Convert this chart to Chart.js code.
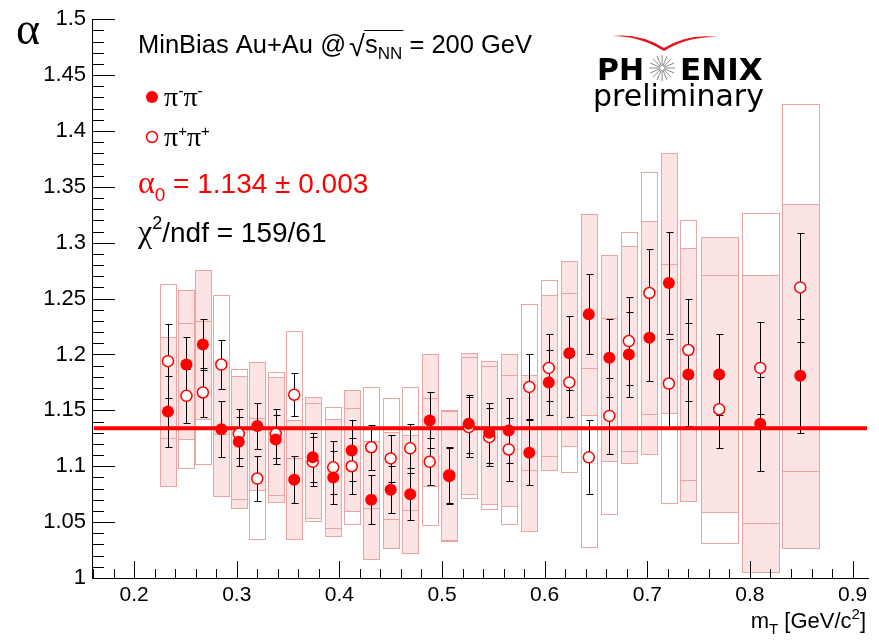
<!DOCTYPE html>
<html>
<head>
<meta charset="utf-8">
<script src="https://cdn.jsdelivr.net/npm/chart.js@4.4.1/dist/chart.umd.min.js"></script>
<style>
  html, body { margin: 0; padding: 0; background: #fff; }
</style>
</head>
<body>
<canvas id="chart" width="879" height="642"></canvas>
<script>
// m_T bin centres (GeV/c^2)
const mT = [0.233, 0.251, 0.267, 0.285, 0.302, 0.320, 0.338, 0.356, 0.374, 0.394,
            0.412, 0.431, 0.450, 0.469, 0.488, 0.507, 0.526, 0.546, 0.565, 0.585,
            0.604, 0.624, 0.643, 0.663, 0.682, 0.702, 0.721, 0.740, 0.770, 0.810, 0.849];
// half width of the systematic boxes (GeV/c^2)
const boxHalfWidth = [0.0078, 0.0078, 0.0078, 0.0078, 0.0078, 0.0078, 0.0078, 0.0078, 0.0078, 0.0078,
                      0.0078, 0.0078, 0.0078, 0.0078, 0.0078, 0.0078, 0.0078, 0.0078, 0.0078, 0.0078,
                      0.0078, 0.0078, 0.0078, 0.0078, 0.0078, 0.0078, 0.0078, 0.0078, 0.018, 0.018, 0.018];

// pi- pi- (filled)
const alphaMinus = [1.149, 1.191, 1.209, 1.133, 1.122, 1.136, 1.124, 1.088, 1.108, 1.090,
                    1.114, 1.070, 1.079, 1.075, 1.141, 1.091, 1.138, 1.130, 1.132, 1.112,
                    1.175, 1.201, 1.236, 1.197, 1.200, 1.215, 1.264, 1.182, 1.182, 1.138, 1.181];
const statMinus = [0.032, 0.025, 0.023, 0.025, 0.022, 0.021, 0.022, 0.021, 0.022, 0.024,
                   0.027, 0.022, 0.021, 0.023, 0.025, 0.025, 0.026, 0.027, 0.029, 0.029,
                   0.029, 0.033, 0.036, 0.035, 0.038, 0.039, 0.046, 0.046, 0.036, 0.042, 0.051];
const sysMinus = [0.067, 0.067, 0.067, 0.060, 0.059, 0.057, 0.056, 0.053, 0.054, 0.052,
                  0.054, 0.053, 0.052, 0.053, 0.059, 0.058, 0.063, 0.064, 0.068, 0.070,
                  0.078, 0.083, 0.090, 0.092, 0.097, 0.104, 0.116, 0.113, 0.123, 0.133, 0.154];

// pi+ pi+ (open)
const alphaPlus = [1.194, 1.163, 1.166, 1.191, 1.129, 1.089, 1.129, 1.164, 1.104, 1.099,
                   1.100, 1.117, 1.107, 1.116, 1.104, 1.092, 1.135, 1.126, 1.115, 1.171,
                   1.188, 1.175, 1.108, 1.145, 1.212, 1.255, 1.174, 1.204, 1.151, 1.188, 1.260];
const statPlus = [0.033, 0.024, 0.022, 0.022, 0.022, 0.020, 0.022, 0.019, 0.022, 0.024,
                  0.025, 0.020, 0.021, 0.022, 0.021, 0.025, 0.027, 0.026, 0.028, 0.029,
                  0.030, 0.031, 0.033, 0.034, 0.039, 0.039, 0.040, 0.046, 0.035, 0.041, 0.049];
const sysPlus = [0.069, 0.065, 0.064, 0.062, 0.058, 0.054, 0.055, 0.057, 0.053, 0.054,
                 0.052, 0.054, 0.054, 0.055, 0.057, 0.058, 0.063, 0.064, 0.067, 0.074,
                 0.079, 0.080, 0.080, 0.088, 0.098, 0.108, 0.107, 0.116, 0.120, 0.139, 0.164];

// constant fit
const alpha0 = 1.134;
const fitRange = [0.161, 0.914];

// axes
const xRange = [0.159, 0.915];
const yRange = [1.0, 1.5];

const RED = '#ff0000';
const BOX_FILL = '#fde4e4';
const BOX_LINE = '#eea3a3';

function fmt(v) {
    return String(Number(v.toFixed(2)));
}

function drawRuns(ctx, x, y, runs) {
    runs.forEach(r => {
        ctx.font = (r.bold ? 'bold ' : '') + r.size + 'px ' + (r.family || '"Liberation Sans"');
        ctx.fillStyle = r.color || '#000';
        ctx.fillText(r.text, x, y + (r.dy || 0));
        x += ctx.measureText(r.text).width;
    });
    return x;
}

// boxes + stat error bars, drawn under the markers
const errorPlugin = {
    id: 'errors',
    beforeDatasetsDraw(chart) {
        const ctx = chart.ctx;
        const xs = chart.scales.x, ys = chart.scales.y;
        ctx.save();
        ctx.lineWidth = 1;
        ctx.strokeStyle = BOX_LINE;
        // filled-series boxes (pink)
        mT.forEach((x, i) => {
            const l = Math.round(xs.getPixelForValue(x - boxHalfWidth[i])) + 0.5;
            const r = Math.round(xs.getPixelForValue(x + boxHalfWidth[i])) + 0.5;
            const t = Math.round(ys.getPixelForValue(alphaMinus[i] + sysMinus[i])) + 0.5;
            const b = Math.round(ys.getPixelForValue(alphaMinus[i] - sysMinus[i])) + 0.5;
            ctx.fillStyle = BOX_FILL;
            ctx.fillRect(l, t, r - l, b - t);
            ctx.strokeRect(l, t, r - l, b - t);
        });
        // open-series boxes (outline only)
        mT.forEach((x, i) => {
            const l = Math.round(xs.getPixelForValue(x - boxHalfWidth[i])) + 0.5;
            const r = Math.round(xs.getPixelForValue(x + boxHalfWidth[i])) + 0.5;
            const t = Math.round(ys.getPixelForValue(alphaPlus[i] + sysPlus[i])) + 0.5;
            const b = Math.round(ys.getPixelForValue(alphaPlus[i] - sysPlus[i])) + 0.5;
            ctx.strokeRect(l, t, r - l, b - t);
        });
        // statistical error bars
        ctx.strokeStyle = '#000';
        const bars = (vals, errs) => {
            mT.forEach((x, i) => {
                const px = Math.round(xs.getPixelForValue(x)) + 0.5;
                const t = Math.round(ys.getPixelForValue(vals[i] + errs[i])) + 0.5;
                const b = Math.round(ys.getPixelForValue(vals[i] - errs[i])) + 0.5;
                ctx.beginPath();
                ctx.moveTo(px, t); ctx.lineTo(px, b);
                ctx.moveTo(px - 3, t); ctx.lineTo(px + 4, t);
                ctx.moveTo(px - 3, b); ctx.lineTo(px + 4, b);
                ctx.stroke();
            });
        };
        bars(alphaMinus, statMinus);
        bars(alphaPlus, statPlus);
        ctx.restore();
    },
    afterDraw(chart) {
        const ctx = chart.ctx;
        const xs = chart.scales.x, ys = chart.scales.y;
        const area = chart.chartArea;
        ctx.save();
        // inward ticks
        ctx.strokeStyle = '#000';
        ctx.lineWidth = 1;
        ctx.beginPath();
        for (let i = 0; i <= 50; i++) {
            const py = Math.round(ys.getPixelForValue(1 + i * 0.01)) + 0.5;
            const len = i % 5 === 0 ? 23 : 12;
            ctx.moveTo(area.left, py); ctx.lineTo(area.left + len, py);
        }
        for (let i = 8; i <= 45; i++) {
            const px = Math.round(xs.getPixelForValue(i * 0.02)) + 0.5;
            const len = i % 5 === 0 ? 17 : 9;
            ctx.moveTo(px, area.bottom); ctx.lineTo(px, area.bottom - len);
        }
        ctx.stroke();

        ctx.textBaseline = 'alphabetic';
        ctx.textAlign = 'left';
        const G = '"Liberation Serif"';

        // axis titles
        drawRuns(ctx, 16, 44, [{ text: 'α', size: 46, family: G }]);
        const xt = [{ text: 'm', size: 22 }, { text: 'T', size: 15, dy: 6 }, { text: ' [GeV/c', size: 22 },
                    { text: '2', size: 15, dy: -9 }, { text: ']', size: 22 }];
        let w = 0;
        xt.forEach(r => { ctx.font = r.size + 'px "Liberation Sans"'; w += ctx.measureText(r.text).width; });
        drawRuns(ctx, 866 - w, 628, xt);

        // header
        let x = drawRuns(ctx, 138, 53, [{ text: 'MinBias Au+Au @ ', size: 25.5 }]);
        x = drawRuns(ctx, x - 4, 56, [{ text: '√', size: 29 }]);
        const s0 = x;
        x = drawRuns(ctx, x, 53, [{ text: 's', size: 25.5 }, { text: 'NN', size: 17, dy: 6 }]);
        ctx.beginPath();
        ctx.moveTo(s0 - 1, 30.5); ctx.lineTo(x + 1, 30.5);
        ctx.stroke();
        drawRuns(ctx, x, 53, [{ text: ' = 200 GeV', size: 25.5 }]);

        // legend
        ctx.fillStyle = RED;
        ctx.beginPath(); ctx.arc(152, 97, 6, 0, Math.PI * 2); ctx.fill();
        ctx.strokeStyle = RED; ctx.lineWidth = 1.5;
        ctx.beginPath(); ctx.arc(152, 137, 5.5, 0, Math.PI * 2); ctx.stroke();
        drawRuns(ctx, 164, 106, [{ text: 'π', size: 28, family: G }, { text: '-', size: 16, dy: -10 },
                                  { text: 'π', size: 28, family: G }, { text: '-', size: 16, dy: -10 }]);
        drawRuns(ctx, 164, 146, [{ text: 'π', size: 28, family: G }, { text: '+', size: 15, dy: -10 },
                                  { text: 'π', size: 28, family: G }, { text: '+', size: 15, dy: -10 }]);

        // fit result
        drawRuns(ctx, 138, 193, [{ text: 'α', size: 32, family: G, color: RED },
                                  { text: '0', size: 19, dy: 8, color: RED },
                                  { text: ' = 1.134 ± 0.003', size: 28, color: RED }]);
        drawRuns(ctx, 138, 242, [{ text: 'χ', size: 32, family: G }, { text: '2', size: 18, dy: -13 },
                                  { text: '/ndf = 159/61', size: 28 }]);

        // PHENIX preliminary
        const D = '"DejaVu Sans"';
        x = drawRuns(ctx, 597, 80, [{ text: 'PH', size: 30, bold: true, family: D }]);
        const cx = x + 18, cy = 68;
        ctx.strokeStyle = '#8a8a8a'; ctx.lineWidth = 1;
        ctx.beginPath();
        for (let k = 0; k < 16; k++) {
            const a = k * Math.PI / 8;
            ctx.moveTo(cx + Math.cos(a) * 2, cy + Math.sin(a) * 2);
            ctx.lineTo(cx + Math.cos(a) * 13, cy + Math.sin(a) * 13);
        }
        ctx.stroke();
        drawRuns(ctx, x + 36, 80, [{ text: 'ENIX', size: 31, bold: true, family: D }]);
        drawRuns(ctx, 593, 106, [{ text: 'preliminary', size: 30, family: D }]);
        ctx.fillStyle = '#e0141e';
        ctx.beginPath();
        ctx.moveTo(612, 36);
        ctx.quadraticCurveTo(640, 33, 664, 48);
        ctx.quadraticCurveTo(688, 33, 718, 37);
        ctx.quadraticCurveTo(688, 36, 664, 51);
        ctx.quadraticCurveTo(640, 36, 612, 36);
        ctx.fill();
        ctx.restore();
    }
};

new Chart(document.getElementById('chart'), {
    type: 'scatter',
    data: {
        datasets: [
            {
                label: 'π-π-',
                data: mT.map((x, i) => ({ x: x, y: alphaMinus[i] })),
                pointStyle: 'circle',
                pointRadius: 6,
                backgroundColor: RED,
                borderColor: RED,
                borderWidth: 0
            },
            {
                label: 'π+π+',
                data: mT.map((x, i) => ({ x: x, y: alphaPlus[i] })),
                pointStyle: 'circle',
                pointRadius: 5.5,
                backgroundColor: '#fff',
                borderColor: RED,
                borderWidth: 1.5
            },
            {
                type: 'line',
                label: 'fit',
                data: fitRange.map(x => ({ x: x, y: alpha0 })),
                borderColor: RED,
                borderWidth: 4,
                pointRadius: 0,
                fill: false
            }
        ]
    },
    options: {
        responsive: false,
        animation: false,
        devicePixelRatio: 1,
        layout: { padding: { top: 18, right: 11, left: 0, bottom: 0 } },
        plugins: { legend: { display: false }, tooltip: { enabled: false } },
        scales: {
            x: {
                type: 'linear',
                min: xRange[0],
                max: xRange[1],
                grid: { display: false, drawTicks: false },
                border: { display: true, color: '#000', width: 1 },
                ticks: {
                    stepSize: 0.1,
                    includeBounds: false,
                    color: '#000',
                    padding: 5,
                    maxRotation: 0,
                    font: { family: '"Liberation Sans"', size: 21 },
                    callback: v => fmt(v)
                },
                afterFit: s => { s.height = 64; }
            },
            y: {
                min: yRange[0],
                max: yRange[1],
                grid: { display: false, drawTicks: false },
                border: { display: true, color: '#000', width: 1 },
                ticks: {
                    stepSize: 0.05,
                    includeBounds: false,
                    color: '#000',
                    padding: 6,
                    font: { family: '"Liberation Sans"', size: 22 },
                    callback: v => fmt(v)
                },
                afterFit: s => { s.width = 92; }
            }
        }
    },
    plugins: [errorPlugin]
});
</script>
</body>
</html>
